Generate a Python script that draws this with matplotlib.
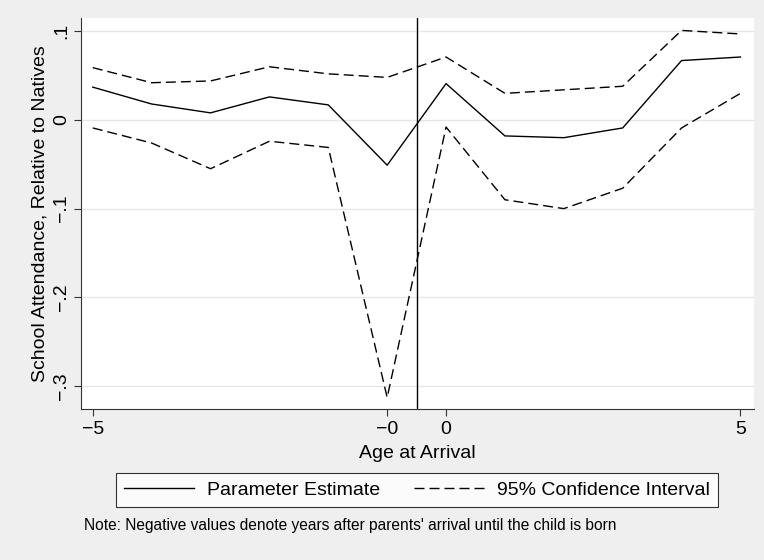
import matplotlib
matplotlib.use('Agg')
import matplotlib.pyplot as plt

# age at arrival, "-0" and "0" are separate positions on the axis
ages = ['-5', '-4', '-3', '-2', '-1', '-0', '0', '1', '2', '3', '4', '5']
estimate = [0.037, 0.018, 0.008, 0.026, 0.017, -0.051,
            0.041, -0.018, -0.020, -0.009, 0.067, 0.071]
ci_upper = [0.059, 0.042, 0.044, 0.060, 0.052, 0.048,
            0.071, 0.030, 0.034, 0.038, 0.101, 0.097]
ci_lower = [-0.009, -0.026, -0.055, -0.024, -0.031, -0.313,
            -0.008, -0.090, -0.100, -0.077, -0.009, 0.030]
xtick_labels = ['\u22125', '\u22120', '0', '5']
ytick_vals = [-0.3, -0.2, -0.1, 0, 0.1]
ytick_labels = ['\u2212.3', '\u2212.2', '\u2212.1', '0', '.1']

plt.rcParams['font.family'] = ['Liberation Sans', 'DejaVu Sans']
plt.rcParams['lines.scale_dashes'] = False

bg = '#efefef'
fs = 14
fig = plt.figure(figsize=(7.64, 5.6), dpi=100, facecolor=bg)
ax = fig.add_axes([81 / 764, 151 / 560, 673 / 764, 391 / 560])
ax.set_facecolor('white')

x = list(range(len(ages)))
dash = (0, (7.2, 3.6))
ax.plot(x, estimate, color='black', lw=1.0, label='Parameter Estimate')
ax.plot(x, ci_upper, color='black', lw=1.0, linestyle=dash, label='95% Confidence Interval')
ax.plot(x, ci_lower, color='black', lw=1.0, linestyle=dash)
ax.axvline(5.5, color='black', lw=1.0)

ax.set_xlim(-0.2, 11.23)
ax.set_ylim(-0.326, 0.115)

ax.set_xticks([0, 5, 6, 11])
ax.set_xticklabels(xtick_labels, fontsize=fs)
ax.set_yticks(ytick_vals)
ax.set_yticklabels(ytick_labels, fontsize=fs, rotation=90, va='center')
ax.tick_params(axis='both', length=5, width=0.8, color='#333333')
ax.tick_params(axis='x', pad=4)
ax.tick_params(axis='y', pad=3)

ax.yaxis.grid(True, color='#e6e6e6', lw=1.0)
ax.set_axisbelow(True)
for side in ['top', 'right']:
    ax.spines[side].set_visible(False)
for side in ['left', 'bottom']:
    ax.spines[side].set_color('#333333')
    ax.spines[side].set_linewidth(0.8)

ax.set_xlabel('Age at Arrival', fontsize=fs, labelpad=5)
ax.set_ylabel('School Attendance, Relative to Natives', fontsize=fs, labelpad=3)

leg = fig.legend(loc='center', bbox_to_anchor=(417 / 764, 1 - 490 / 560), ncol=2,
                 fontsize=fs, frameon=True, fancybox=False, edgecolor='black',
                 facecolor='white', handlelength=3.6, handletextpad=0.7,
                 columnspacing=1.7, borderpad=0.42)
leg.get_frame().set_linewidth(0.8)

fig.text(84 / 764, 1 - 530 / 560, "Note: Negative values denote years after parents' arrival until the child is born",
         fontsize=11.2, ha='left', va='baseline')

fig.savefig('out.png', dpi=100, facecolor=bg)
